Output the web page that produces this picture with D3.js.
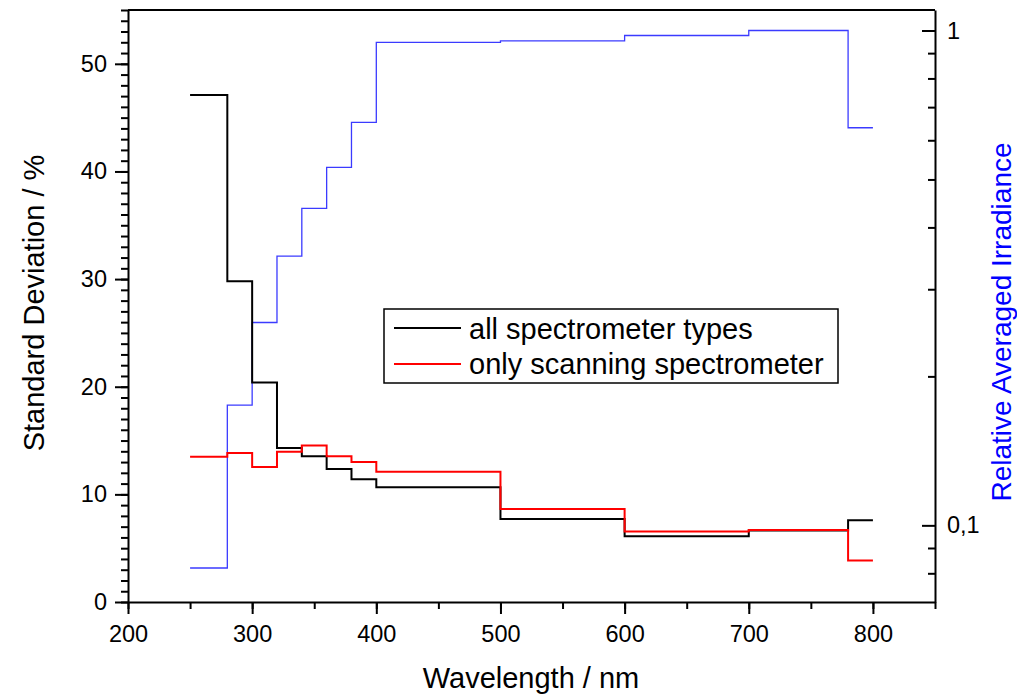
<!DOCTYPE html>
<html>
<head>
<meta charset="utf-8">
<script src="https://cdn.jsdelivr.net/npm/d3@7"></script>
<style>
  body { margin: 0; background: #fff; }
  svg text { font-family: Arial, "Liberation Sans", sans-serif; }
</style>
</head>
<body>
<svg id="chart" width="1017" height="696"></svg>
<script>
// bin edges in nm (each value spans edge[i] .. edge[i+1])
var binEdges = [250, 280, 300, 320, 340, 360, 380, 400, 500, 600, 700, 780, 800];
var allTypes = [47.1, 29.8, 20.4, 14.3, 13.55, 12.35, 11.4, 10.65, 7.7, 6.1, 6.65, 7.6];
var scanningOnly = [13.5, 13.85, 12.55, 13.95, 14.55, 13.55, 13.0, 12.1, 8.65, 6.55, 6.68, 3.85];
var irradiance = [0.082, 0.175, 0.257, 0.350, 0.437, 0.529, 0.652, 0.946, 0.953, 0.977, 1.0, 0.636];

var xTicks = [200, 300, 400, 500, 600, 700, 800];
var yTicks = [0, 10, 20, 30, 40, 50];
var logTicks = [0.1, 1];
var logMinor = [0.08, 0.09, 0.2, 0.3, 0.4, 0.5, 0.6, 0.7, 0.8, 0.9];
var legendLabels = ["all spectrometer types", "only scanning spectrometer"];

var svg = d3.select("#chart");

var xScale = d3.scaleLinear().domain([200, 850]).range([128, 935]);
var yScale = d3.scaleLinear().domain([0, 55]).range([602, 10]);
var yLog = d3.scaleLog().domain([0.07, 1.1]).range([602, 10]);

function stepPoints(vals){
  // repeat last value so the step closes at the last edge
  return binEdges.map((e, i) => ({x: e, v: vals[Math.min(i, vals.length - 1)]}));
}

var lineLeft = d3.line()
  .x((d) => xScale(d.x))
  .y((d) => yScale(d.v))
  .curve(d3.curveStepAfter);

var lineRight = d3.line()
  .x((d) => xScale(d.x))
  .y((d) => yLog(d.v))
  .curve(d3.curveStepAfter);

// top frame line
svg.append("line")
  .attr("x1", 128).attr("x2", 935)
  .attr("y1", 10).attr("y2", 10)
  .attr("stroke", "black").attr("stroke-width", 2);

/*** left axis ***/
svg.append("g")
  .attr("transform", "translate(128,0)")
  .call(d3.axisLeft(yScale).tickValues(d3.range(0, 56, 1)).tickSize(7).tickFormat(""))
  .call((g) => g.selectAll("line").attr("stroke-width", 2))
  .call((g) => g.select(".domain").remove());

svg.append("g")
  .attr("transform", "translate(128,0)")
  .call(d3.axisLeft(yScale).tickValues(yTicks).tickSizeInner(13).tickSizeOuter(0).tickPadding(8))
  .call((g) => g.selectAll("line").attr("stroke-width", 2))
  .call((g) => g.select(".domain").attr("stroke-width", 2))
  .call((g) => g.selectAll("text").attr("font-size", 23.5).attr("fill", "black"));

/*** bottom axis ***/
svg.append("g")
  .attr("transform", "translate(0,602)")
  .call(d3.axisBottom(xScale).tickValues(d3.range(200, 851, 50)).tickSize(7).tickFormat(""))
  .call((g) => g.selectAll("line").attr("stroke-width", 2))
  .call((g) => g.select(".domain").remove());

svg.append("g")
  .attr("transform", "translate(0,602)")
  .call(d3.axisBottom(xScale).tickValues(xTicks).tickSizeInner(12).tickSizeOuter(0).tickPadding(11))
  .call((g) => g.selectAll("line").attr("stroke-width", 2))
  .call((g) => g.select(".domain").attr("stroke-width", 2))
  .call((g) => g.selectAll("text").attr("font-size", 23.5).attr("fill", "black"));

/*** right log axis (ticks point inward) ***/
svg.append("g")
  .attr("transform", "translate(935,0)")
  .call(d3.axisRight(yLog).tickValues(logMinor).tickSize(-7).tickFormat(""))
  .call((g) => g.selectAll("line").attr("stroke-width", 2))
  .call((g) => g.select(".domain").remove());

svg.append("g")
  .attr("transform", "translate(935,0)")
  .call(d3.axisRight(yLog).tickValues(logTicks).tickSizeInner(-13).tickSizeOuter(0).tickPadding(12)
    .tickFormat((d) => d === 1 ? "1" : "0,1"))
  .call((g) => g.selectAll("line").attr("stroke-width", 2))
  .call((g) => g.select(".domain").attr("stroke-width", 2))
  .call((g) => g.selectAll("text").attr("font-size", 23.5).attr("fill", "black"));

/*** series ***/
svg.append("path")
  .attr("d", lineRight(stepPoints(irradiance)))
  .attr("fill", "none")
  .attr("stroke", "#3b3bff")
  .attr("stroke-width", 1.3);

svg.append("path")
  .attr("d", lineLeft(stepPoints(allTypes)))
  .attr("fill", "none")
  .attr("stroke", "black")
  .attr("stroke-width", 2);

svg.append("path")
  .attr("d", lineLeft(stepPoints(scanningOnly)))
  .attr("fill", "none")
  .attr("stroke", "#ff0000")
  .attr("stroke-width", 2);

/*** legend ***/
var legend = svg.append("g").attr("transform", "translate(384,309)");
legend.append("rect")
  .attr("width", 454).attr("height", 74)
  .attr("fill", "white").attr("stroke", "black").attr("stroke-width", 1.5);

var legendColors = ["black", "#ff0000"];
legendLabels.forEach((lab, i) => {
  legend.append("line")
    .attr("x1", 10).attr("x2", 77)
    .attr("y1", 19 + i * 36).attr("y2", 19 + i * 36)
    .attr("stroke", legendColors[i]).attr("stroke-width", 2);
  legend.append("text")
    .attr("x", 85).attr("y", 30 + i * 35)
    .attr("font-size", 29)
    .text(lab);
});

/*** axis titles ***/
svg.append("text")
  .attr("transform", "translate(44,303) rotate(-90)")
  .style("text-anchor", "middle")
  .attr("font-size", 29)
  .text("Standard Deviation / %");

svg.append("text")
  .attr("x", 531).attr("y", 688)
  .style("text-anchor", "middle")
  .attr("font-size", 29)
  .text("Wavelength / nm");

svg.append("text")
  .attr("transform", "translate(1011,322) rotate(-90)")
  .style("text-anchor", "middle")
  .attr("font-size", 28)
  .attr("fill", "#0000ff")
  .text("Relative Averaged Irradiance");
</script>
</body>
</html>
